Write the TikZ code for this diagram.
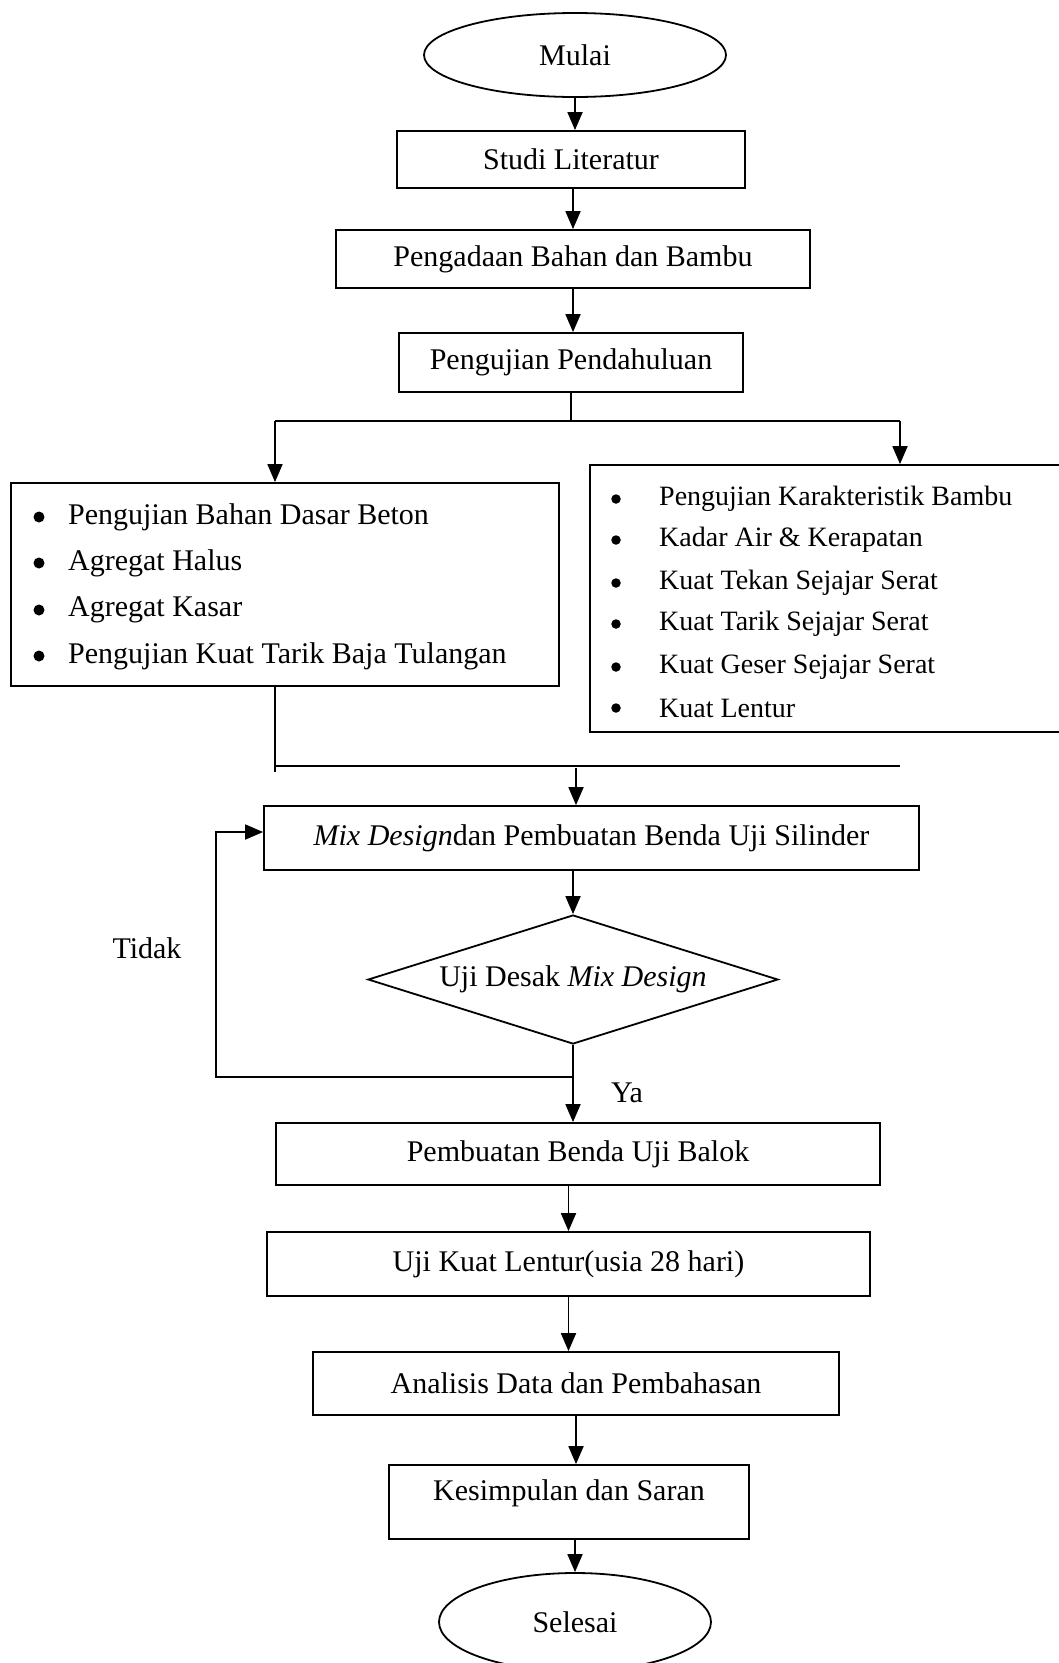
\documentclass[tikz,border=0pt]{standalone}
\usepackage{fontspec}
\setmainfont{Liberation Serif}
\usetikzlibrary{shapes.geometric,arrows.meta}
\begin{document}
\begin{tikzpicture}[x=1pt,y=-1pt,
  every node/.style={font=\fontsize{30}{36}\selectfont},
  box/.style={draw,rectangle,line width=1.8pt,inner sep=0pt},
  oval/.style={draw,ellipse,line width=1.8pt,inner sep=0pt},
  arr/.style={line width=1.8pt,-{Triangle[length=18pt,width=15pt]}},
  ln/.style={line width=1.8pt},
  bul/.style={circle,fill,inner sep=0pt,minimum size=#1},
  item/.style={anchor=west,inner sep=0pt},
  small/.style={font=\fontsize{28}{34}\selectfont}]
\clip (0,0) rectangle (1059,1663);
% start
\node[oval,minimum width=302pt,minimum height=84pt] (mulai) at (575,55) {Mulai};
\node[box,minimum width=348pt,minimum height=57pt] (studi) at (571,159.5) {Studi Literatur};
\node[box,minimum width=474pt,minimum height=58pt] (adaan) at (573,259) {Pengadaan Bahan dan Bambu};
\node[box,minimum width=344pt,minimum height=59pt] (pend) at (571,362.5) {Pengujian Pendahuluan};
% left list box
\node[box,minimum width=548pt,minimum height=203pt] (lbox) at (285,584.5) {};
\node[bul=11pt] (lb1) at (39,517) {};
\node[item] (l1) at (68,517) {Pengujian Bahan Dasar Beton};
\node[bul=11pt] (lb2) at (39,563) {};
\node[item] (l2) at (68,563) {Agregat Halus};
\node[bul=11pt] (lb3) at (39,610) {};
\node[item] (l3) at (68,610) {Agregat Kasar};
\node[bul=11pt] (lb4) at (39,656) {};
\node[item] (l4) at (68,656) {Pengujian Kuat Tarik Baja Tulangan};
% right list box
\node[box,minimum width=485pt,minimum height=267pt] (rbox) at (832.5,598.5) {};
\node[bul=9.5pt] (rb1) at (616,499) {};
\node[item,small] (r1) at (659,499) {Pengujian Karakteristik Bambu};
\node[bul=9.5pt] (rb2) at (616,540) {};
\node[item,small] (r2) at (659,540) {Kadar Air \& Kerapatan};
\node[bul=9.5pt] (rb3) at (616,583) {};
\node[item,small] (r3) at (659,583) {Kuat Tekan Sejajar Serat};
\node[bul=9.5pt] (rb4) at (616,624) {};
\node[item,small] (r4) at (659,624) {Kuat Tarik Sejajar Serat};
\node[bul=9.5pt] (rb5) at (616,667) {};
\node[item,small] (r5) at (659,667) {Kuat Geser Sejajar Serat};
\node[bul=9.5pt] (rb6) at (616,708) {};
\node[item,small] (r6) at (659,708) {Kuat Lentur};
% middle part
\node[box,minimum width=655pt,minimum height=64pt] (mix) at (591.5,838) {\textit{Mix Design}dan Pembuatan Benda Uji Silinder};
\node[draw,diamond,aspect=3.18,minimum width=410pt,minimum height=129pt,inner sep=0pt,line width=1.8pt] (dia) at (573,979.5) {Uji Desak \textit{Mix Design}};
\node[box,minimum width=604pt,minimum height=62pt] (balok) at (578,1154) {Pembuatan Benda Uji Balok};
\node[box,minimum width=603pt,minimum height=64pt] (lentur) at (568.5,1264) {Uji Kuat Lentur(usia 28 hari)};
\node[box,minimum width=526pt,minimum height=63pt] (anal) at (576,1383.5) {Analisis Data dan Pembahasan};
\node[box,minimum width=360pt,minimum height=74pt] (kes) at (569,1502) {\raisebox{9pt}[\height][\depth]{Kesimpulan dan Saran}};
\node[oval,minimum width=272pt,minimum height=98pt] (sel) at (575,1622) {Selesai};
% labels
\node (tidak) at (147,948) {Tidak};
\node (ya) at (627,1093) {Ya};
% coordinates
\coordinate (sl) at (275,421);
\coordinate (sr) at (900,421);
\coordinate (ml) at (275,766);
\coordinate (mr) at (900,766);
\coordinate (mlb) at (275,772);
\coordinate (mc) at (576,768);
\coordinate (lp) at (573,1077);
\coordinate (lpl) at (216,1077);
\coordinate (lpt) at (216,832);
% connectors
\draw[arr] (mulai.south) -- (mulai.south |- studi.north);
\draw[arr] (studi.south -| adaan.north) -- (adaan.north);
\draw[arr] (adaan.south) -- (adaan.south |- pend.north);
\draw[ln] (pend.south) -- (pend.south |- sl);
\draw[ln] (sl) -- (sr);
\draw[arr] (sl) -- (sl |- lbox.north);
\draw[arr] (sr) -- (sr |- rbox.north);
\draw[ln] (ml |- lbox.south) -- (mlb);
\draw[ln] (ml) -- (mr);
\draw[arr] (mc) -- (mc |- mix.north);
\draw[arr] (mix.south -| dia.north) -- (dia.north);
\draw[ln] (dia.south) -- (lp);
\draw[arr] (lp) -- (lp |- balok.north);
\draw[arr] (lp) -- (lpl) -- (lpt) -- (lpt -| mix.west);
\draw[arr] (balok.south -| lentur.north) -- (lentur.north);
\draw[arr] (lentur.south) -- (lentur.south |- anal.north);
\draw[arr] (anal.south) -- (anal.south |- kes.north);
\draw[arr] (kes.south -| sel.north) -- (sel.north);
\end{tikzpicture}
\end{document}
